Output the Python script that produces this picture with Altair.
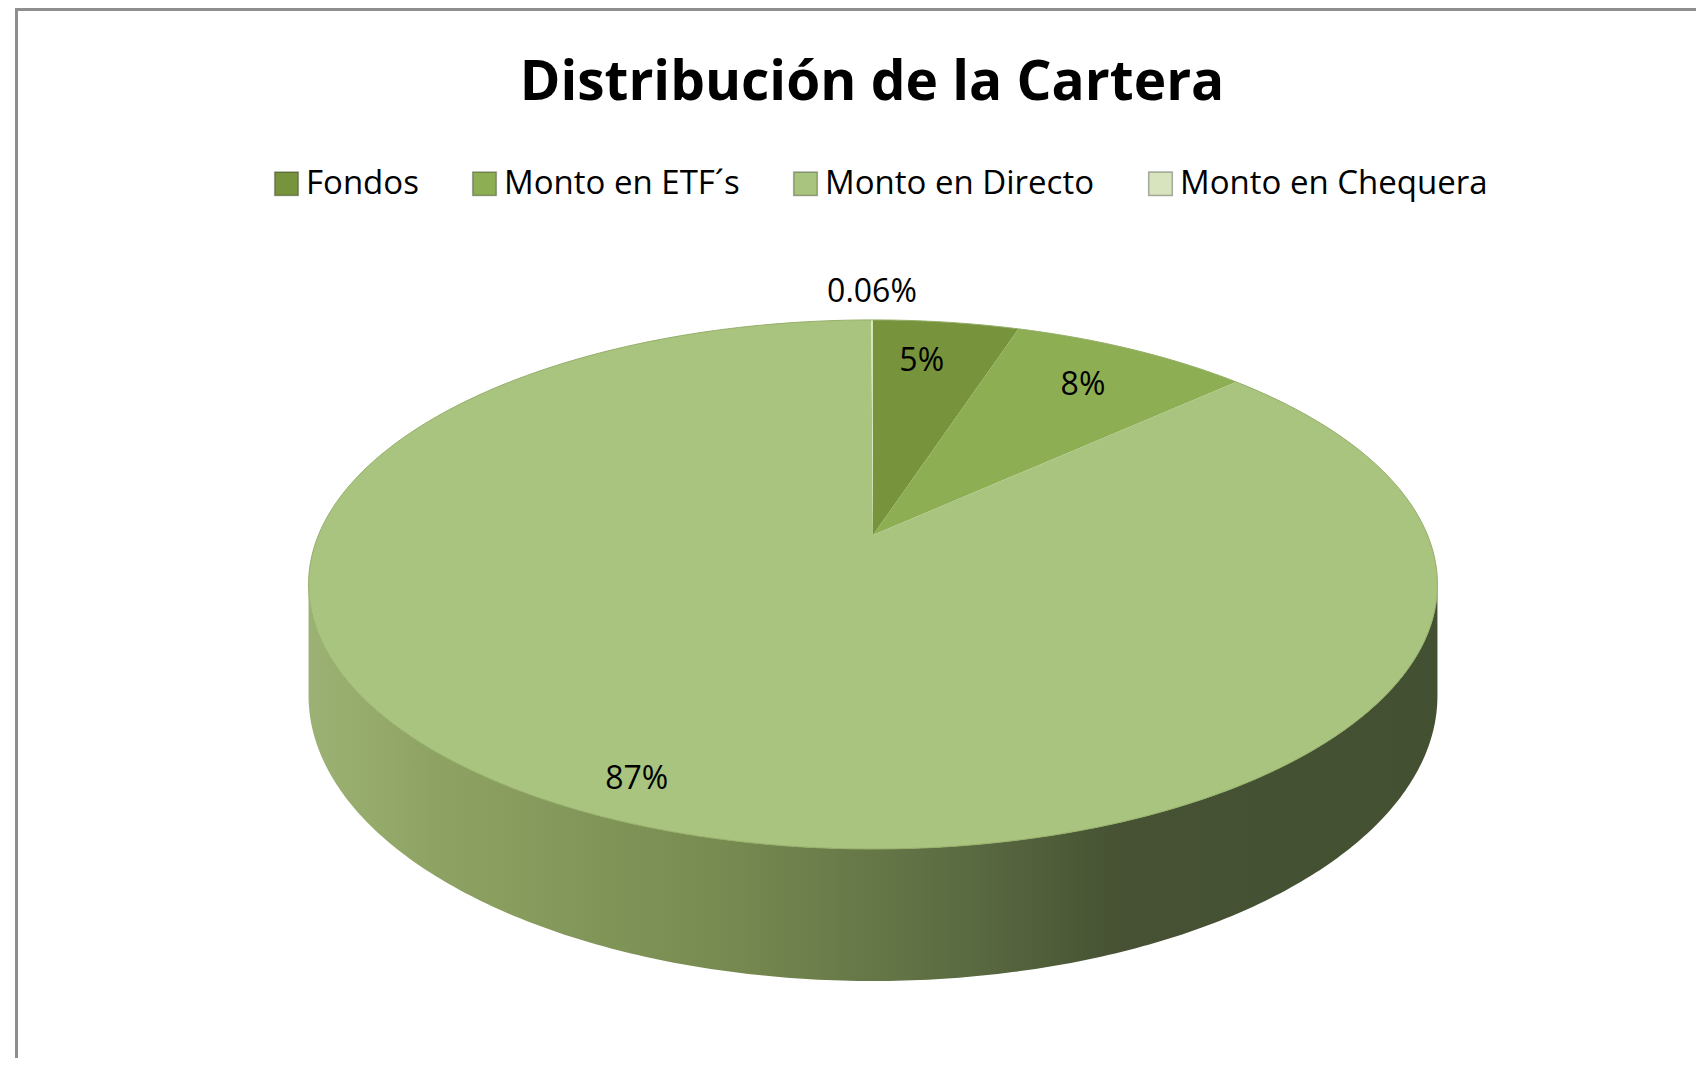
import altair as alt
import pandas as pd

# ---------------- data ----------------
TITLE = "Distribución de la Cartera"
categories = ["Fondos", "Monto en ETF´s", "Monto en Directo", "Monto en Chequera"]
values = [5.0, 8.2, 86.74, 0.06]
labels = ["5%", "8%", "87%", "0.06%"]
colors = ["#77933C", "#8DAE53", "#A9C47F", "#D7E4BD"]

# ---------------- layout (pixels) ----------------
W, H = 1688, 1050
CX, CY = 873, 535          # apex of the pie on the page
SX, SY = 554.5, 255.3      # projected radii
K = 0.187                  # perspective factor
SH = 107.3                 # wall depth
N = 240                    # arc sampling
FONT = "Open Sans"

df = pd.DataFrame({"cat": categories, "value": values, "label": labels,
                   "idx": list(range(len(categories)))})

xs = alt.Scale(domain=[8, 8 + W], nice=False, zero=False)
ys = alt.Scale(domain=[8, 8 + H], nice=False, zero=False, reverse=True)

base = (
    alt.Chart(df)
    .transform_joinaggregate(total="sum(value)")
    .transform_window(cum="sum(value)", sort=[alt.SortField("idx")], frame=[None, 0])
    .transform_calculate(a0="2*PI*(datum.cum - datum.value)/datum.total")
    .transform_calculate(a1="2*PI*datum.cum/datum.total")
)

wall_gradient = alt.LinearGradient(
    gradient="linear", x1=0, x2=1, y1=0, y2=0,
    stops=[
        alt.GradientStop(color="#9CB274", offset=0),
        alt.GradientStop(color="#8EA363", offset=0.11),
        alt.GradientStop(color="#768950", offset=0.38),
        alt.GradientStop(color="#5A6A41", offset=0.585),
        alt.GradientStop(color="#465233", offset=0.72),
        alt.GradientStop(color="#435032", offset=1),
    ],
)

# ---- side wall (front half of the cylinder) as a closed polygon ----
wall = (
    alt.Chart(alt.sequence(0, 2 * N + 2, as_="i"))
    .transform_calculate(j=f"datum.i <= {N} ? datum.i : {2 * N + 1} - datum.i",
                         lower=f"datum.i <= {N} ? 0 : 1")
    .transform_calculate(th=f"acos(-{K}) + datum.j/{N}*(2*PI - 2*acos(-{K}))")
    .transform_calculate(X="sin(datum.th)", Y="cos(datum.th)")
    .transform_calculate(w=f"1 + {K}*datum.Y")
    .transform_calculate(px=f"{CX} + {SX}*datum.X/datum.w",
                         py=f"{CY} - {SY}*datum.Y/datum.w + datum.lower*{SH}/datum.w")
    .mark_line(filled=True, color=wall_gradient)
    .encode(
        x=alt.X("px:Q", scale=xs, axis=None),
        y=alt.Y("py:Q", scale=ys, axis=None),
        order="i:Q",
    )
)

# ---- top surface sectors ----
sectors = (
    base.transform_calculate(i=f"sequence(-1, {N + 2})")
    .transform_flatten(["i"])
    .transform_calculate(r=f"(datum.i < 0 || datum.i > {N}) ? 0 : 1")
    .transform_calculate(ang=f"datum.a0 + (datum.a1 - datum.a0)*clamp(datum.i, 0, {N})/{N}")
    .transform_calculate(X="datum.r*sin(datum.ang)", Y="datum.r*cos(datum.ang)")
    .transform_calculate(w=f"1 + {K}*datum.Y")
    .transform_calculate(px=f"{CX} + {SX}*datum.X/datum.w",
                         py=f"{CY} - {SY}*datum.Y/datum.w")
    .mark_line(filled=True)
    .encode(
        x=alt.X("px:Q", scale=xs, axis=None),
        y=alt.Y("py:Q", scale=ys, axis=None),
        color=alt.Color(
            "cat:N",
            scale=alt.Scale(domain=categories, range=colors),
            legend=alt.Legend(
                title=None, orient="none", legendX=262, legendY=159,
                direction="horizontal", symbolType="square", symbolSize=560,
                symbolStrokeWidth=1.5, symbolStrokeColor="rgba(0,0,0,0.3)",
                labelFont=FONT, labelFontSize=33, labelColor="#000000",
                labelLimit=500, labelOffset=3, columnPadding=49, padding=0,
            ),
        ),
        order="i:Q",
    )
)

# ---- rim outline ----
rim = (
    alt.Chart(alt.sequence(0, N + 1, as_="i"))
    .transform_calculate(th=f"datum.i/{N}*2*PI")
    .transform_calculate(X="sin(datum.th)", Y="cos(datum.th)")
    .transform_calculate(w=f"1 + {K}*datum.Y")
    .transform_calculate(px=f"{CX} + {SX}*datum.X/datum.w",
                         py=f"{CY} - {SY}*datum.Y/datum.w")
    .mark_line(color="#95AF69", strokeWidth=1)
    .encode(
        x=alt.X("px:Q", scale=xs, axis=None),
        y=alt.Y("py:Q", scale=ys, axis=None),
        order="i:Q",
    )
)

# ---- slice labels (inside at 0.85 radius, tiny slices outside) ----
slice_labels = (
    base.transform_calculate(mid="(datum.a0 + datum.a1)/2",
                             share="datum.value/datum.total")
    .transform_calculate(inside="datum.share >= 0.01")
    .transform_calculate(lr="datum.inside ? 0.85 : 1.2")
    .transform_calculate(X="datum.lr*sin(datum.mid)", Y="datum.lr*cos(datum.mid)")
    .transform_calculate(w=f"1 + {K}*datum.Y")
    .transform_calculate(px=f"{CX} + {SX}*datum.X/datum.w - (datum.inside ? 15 : 0)",
                         py=f"{CY} - {SY}*datum.Y/datum.w + (datum.inside ? 4 : 0)")
    .mark_text(font=FONT, fontSize=32, color="#000000", dy=7,
               align="center", baseline="middle")
    .encode(
        x=alt.X("px:Q", scale=xs, axis=None),
        y=alt.Y("py:Q", scale=ys, axis=None),
        text="label:N",
    )
)

# ---- title ----
title = (
    alt.Chart(pd.DataFrame({"t": [TITLE]}))
    .mark_text(font=FONT, fontSize=55, fontWeight="bold", color="#000000",
               align="center", baseline="alphabetic")
    .encode(text="t:N", x=alt.value(864), y=alt.value(92))
)

# ---- chart frame (left and top edges) ----
frame_left = alt.Chart(pd.DataFrame({"f": [0]})).mark_rule(
    color="#8E8E8E", strokeWidth=3
).encode(x=alt.value(8.5), y=alt.value(0), y2=alt.value(H))
frame_top = alt.Chart(pd.DataFrame({"f": [0]})).mark_rule(
    color="#8E8E8E", strokeWidth=3
).encode(y=alt.value(1.5), x=alt.value(7), x2=alt.value(W))

chart = (
    alt.layer(frame_left, frame_top, wall, sectors, rim, slice_labels, title)
    .properties(width=W, height=H, padding=0,
                autosize=alt.AutoSizeParams(type="none"))
    .configure_view(strokeWidth=0)
)

chart.save("out.html", embed_options={"renderer": "svg", "actions": False})
